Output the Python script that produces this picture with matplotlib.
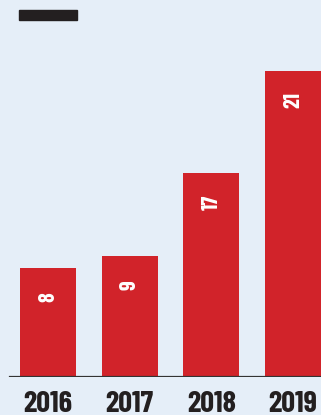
import matplotlib
matplotlib.use('Agg')
import matplotlib.pyplot as plt
from matplotlib.patches import Rectangle

years = ['2016', '2017', '2018', '2019']
labels = ['8', '9', '17', '21']
# bar heights as drawn in the source (not strictly to scale with the labels)
bar_heights = [8.1, 9.0, 15.2, 22.8]

bg = '#e5eef8'
red = '#d1232a'
ink = '#231f20'
font = ['Barlow Condensed', 'Roboto Condensed', 'DejaVu Sans']

fig = plt.figure(figsize=(3.21, 4.15), dpi=100)
fig.patch.set_facecolor(bg)

W, H = 321, 415
base_px = 377
ax = fig.add_axes([0, (H - base_px) / H, 1, base_px / H])
ax.set_facecolor(bg)

step = 81.67
x = list(range(len(years)))
ax.bar(x, bar_heights, width=56 / step, color=red, zorder=2)
ax.set_xlim(-48 / step, (W - 48) / step)
ax.set_ylim(0, base_px / 13.4)
ax.axhline(0, xmin=10 / W, xmax=1, color='#333333', lw=1.6, zorder=3)

for i, (h, lab, yr) in enumerate(zip(bar_heights, labels, years)):
    ax.annotate(lab, xy=(i, h), xytext=(0, -29), textcoords='offset pixels',
                ha='center', va='center', rotation=90, color='white',
                fontsize=16, fontweight='bold', family=font, zorder=4)
    ax.annotate(yr, xy=(i, 0), xytext=(0, -35), textcoords='offset pixels',
                ha='center', va='baseline', color=ink, annotation_clip=False,
                fontsize=22, fontweight='bold', family=font)

ax.axis('off')

# short black rule at top left
fig.add_artist(Rectangle((19 / W, 1 - 20 / H), 58 / W, 10 / H,
                         transform=fig.transFigure, color=ink))

fig.savefig('out.png', dpi=100, facecolor=bg)
